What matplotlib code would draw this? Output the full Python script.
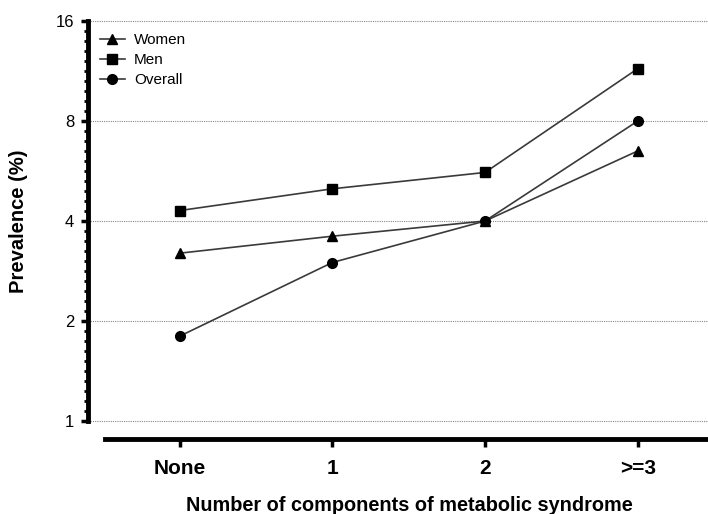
"""
Prevalence by number of metabolic syndrome components, log2 y-axis.
"""

import numpy as np
import matplotlib
matplotlib.use("Agg")
import matplotlib.pyplot as plt
from matplotlib.ticker import FixedLocator, FuncFormatter

categories = ["None", "1", "2", ">=3"]
women = [3.2, 3.6, 4.0, 6.5]
men = [4.3, 5.0, 5.6, 11.5]
overall = [1.8, 3.0, 4.0, 8.0]
y_ticks = [1, 2, 4, 8, 16]

plt.rcParams["font.family"] = ["Liberation Sans", "DejaVu Sans"]


def main() -> None:
    fig = plt.figure(figsize=(7.08, 5.14), dpi=100)
    ax = fig.add_axes([88 / 708, 1 - 421 / 514, 620 / 708, 400 / 514])

    x = np.arange(len(categories))
    line_kw = dict(color="#3a3a3a", lw=1.2, markerfacecolor="black",
                   markeredgecolor="black", clip_on=False)
    ax.plot(x, women, marker="^", ms=7, label="Women", **line_kw)
    ax.plot(x, men, marker="s", ms=6.5, label="Men", **line_kw)
    ax.plot(x, overall, marker="o", ms=7, label="Overall", **line_kw)

    # spine placement first: set_position resets the tick setup
    for side in ("top", "right"):
        ax.spines[side].set_visible(False)
    ax.spines["left"].set_linewidth(3.5)
    ax.spines["bottom"].set_linewidth(3.5)
    ax.spines["bottom"].set_position(("outward", 12.6))
    ax.spines["bottom"].set_bounds(-0.49, 3.46)

    ax.set_yscale("log", base=2)
    ax.set_ylim(1, 16)
    ax.set_xlim(-0.6, 3.46)
    ax.yaxis.set_major_locator(FixedLocator(y_ticks))
    ax.yaxis.set_major_formatter(FuncFormatter(lambda v, p: f"{v:g}"))
    ax.yaxis.set_minor_locator(FixedLocator(2 ** (np.arange(0, 41) / 10)))
    ax.yaxis.set_minor_formatter(FuncFormatter(lambda v, p: ""))

    ax.set_xticks(x)
    ax.set_xticklabels(categories, fontsize=15, fontweight="bold")

    for yv in y_ticks:
        ax.axhline(yv, color="#888888", lw=0.8, ls=(0, (1, 1)), zorder=0,
                   clip_on=False)

    ax.tick_params(axis="y", which="major", length=5, width=2.5,
                   labelsize=12, pad=5)
    ax.tick_params(axis="y", which="minor", length=3, width=2)
    ax.tick_params(axis="x", length=6, width=2.5, pad=9)

    ax.set_ylabel("Prevalence (%)", fontsize=14.5, fontweight="bold")
    ax.yaxis.set_label_coords(-0.096, 0.5)
    ax.set_xlabel("Number of components of metabolic syndrome", fontsize=14.3,
                  fontweight="bold", va="baseline")
    ax.xaxis.set_label_coords((409 - 88) / 620, -(511 - 421) / 400)

    ax.legend(loc="upper left", frameon=False, fontsize=11,
              bbox_to_anchor=(0.0, 1.0), handlelength=1.6, handletextpad=0.6,
              labelspacing=0.4, borderaxespad=0.4)

    fig.savefig("out.png", dpi=100)
    plt.close(fig)


if __name__ == "__main__":
    main()
